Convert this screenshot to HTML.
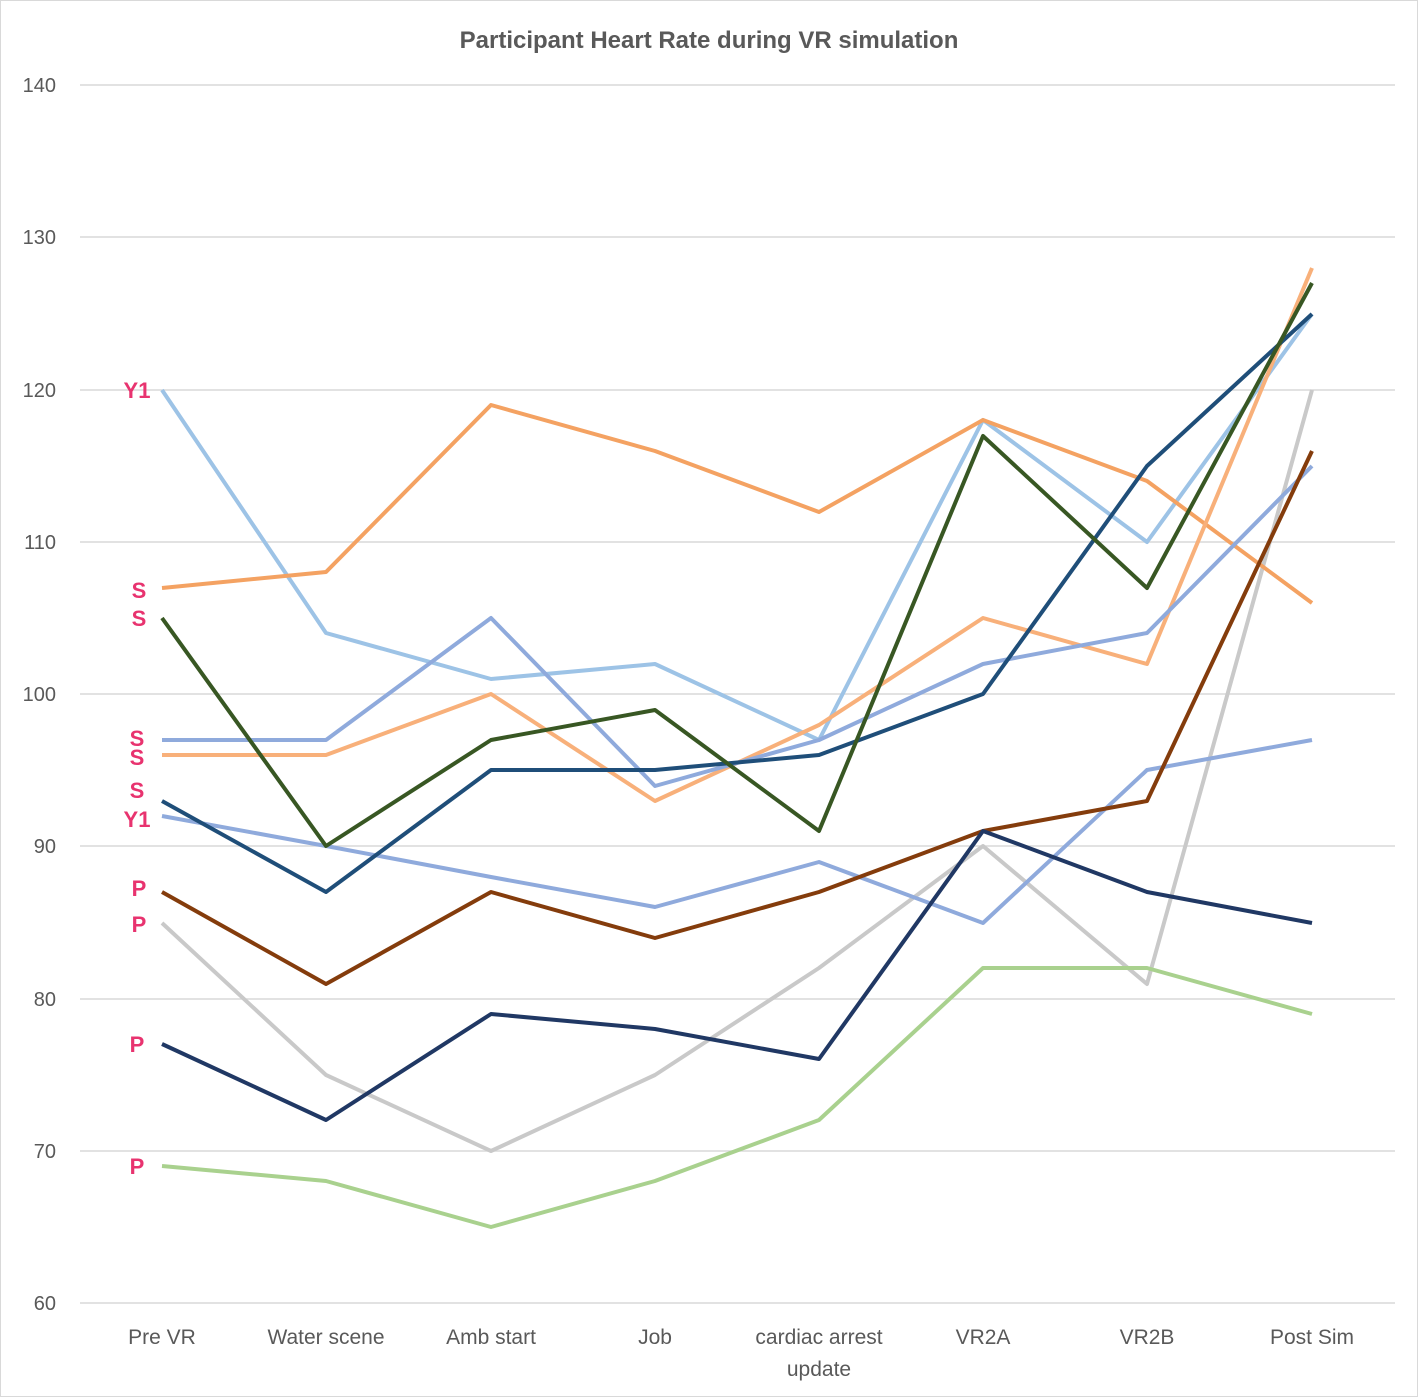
<!DOCTYPE html>
<html><head><meta charset="utf-8"><style>
html,body{margin:0;padding:0;background:#fff;}
svg{display:block;font-family:"Liberation Sans",sans-serif;}
</style></head><body>
<svg width="1418" height="1397" viewBox="0 0 1418 1397" xmlns="http://www.w3.org/2000/svg">
<rect x="0.5" y="0.5" width="1417" height="1396" fill="#fff" stroke="#d9d9d9"/>
<text x="709" y="48" text-anchor="middle" font-size="24" font-weight="bold" fill="#595959">Participant Heart Rate during VR simulation</text>
<g stroke="#d9d9d9" stroke-width="1.5">
<line x1="80" x2="1395" y1="85" y2="85"/><line x1="80" x2="1395" y1="237" y2="237"/>
<line x1="80" x2="1395" y1="390" y2="390"/><line x1="80" x2="1395" y1="542" y2="542"/>
<line x1="80" x2="1395" y1="694" y2="694"/><line x1="80" x2="1395" y1="846" y2="846"/>
<line x1="80" x2="1395" y1="999" y2="999"/><line x1="80" x2="1395" y1="1151" y2="1151"/>
<line x1="80" x2="1395" y1="1303" y2="1303"/>
</g>
<g font-size="20" fill="#595959" text-anchor="end">
<text x="56" y="92">140</text><text x="56" y="244">130</text><text x="56" y="397">120</text>
<text x="56" y="549">110</text><text x="56" y="701">100</text><text x="56" y="853">90</text>
<text x="56" y="1006">80</text><text x="56" y="1158">70</text><text x="56" y="1310">60</text>
</g>
<g font-size="21" fill="#595959" text-anchor="middle">
<text x="162" y="1344">Pre VR</text><text x="326" y="1344">Water scene</text>
<text x="491" y="1344">Amb start</text><text x="655" y="1344">Job</text>
<text x="819" y="1344">cardiac arrest</text><text x="819" y="1376">update</text>
<text x="983" y="1344">VR2A</text><text x="1147" y="1344">VR2B</text><text x="1312" y="1344">Post Sim</text>
</g>
<g fill="none" stroke-width="4" stroke-linejoin="round">
<polyline stroke="#C9C9C9" points="162,923 326,1075 491,1151 655,1075 819,968 983,846 1147,984 1312,390"/>
<polyline stroke="#9DC3E6" points="162,390 326,633 491,679 655,664 819,740 983,420 1147,542 1312,314"/>
<polyline stroke="#F4A262" points="162,588 326,572 491,405 655,451 819,512 983,420 1147,481 1312,603"/>
<polyline stroke="#F8B07A" points="162,755 326,755 491,694 655,801 819,725 983,618 1147,664 1312,268"/>
<polyline stroke="#8FAADC" points="162,740 326,740 491,618 655,786 819,740 983,664 1147,633 1312,466"/>
<polyline stroke="#8FAADC" points="162,816 326,846 491,877 655,907 819,862 983,923 1147,770 1312,740"/>
<polyline stroke="#1F4E79" points="162,801 326,892 491,770 655,770 819,755 983,694 1147,466 1312,314"/>
<polyline stroke="#385723" points="162,618 326,846 491,740 655,710 819,831 983,436 1147,588 1312,283"/>
<polyline stroke="#843C0C" points="162,892 326,984 491,892 655,938 819,892 983,831 1147,801 1312,451"/>
<polyline stroke="#203864" points="162,1044 326,1120 491,1014 655,1029 819,1059 983,831 1147,892 1312,923"/>
<polyline stroke="#A9D18E" points="162,1166 326,1181 491,1227 655,1181 819,1120 983,968 1147,968 1312,1014"/>
</g>
<g font-size="22" font-weight="bold" fill="#E8336F" text-anchor="middle">
<text x="137" y="398">Y1</text><text x="139" y="598">S</text><text x="139" y="626">S</text>
<text x="137" y="746">S</text><text x="137" y="765">S</text><text x="137" y="798">S</text>
<text x="137" y="827">Y1</text><text x="139" y="896">P</text><text x="139" y="932">P</text>
<text x="137" y="1052">P</text><text x="137" y="1174">P</text>
</g>
</svg>
</body></html>
